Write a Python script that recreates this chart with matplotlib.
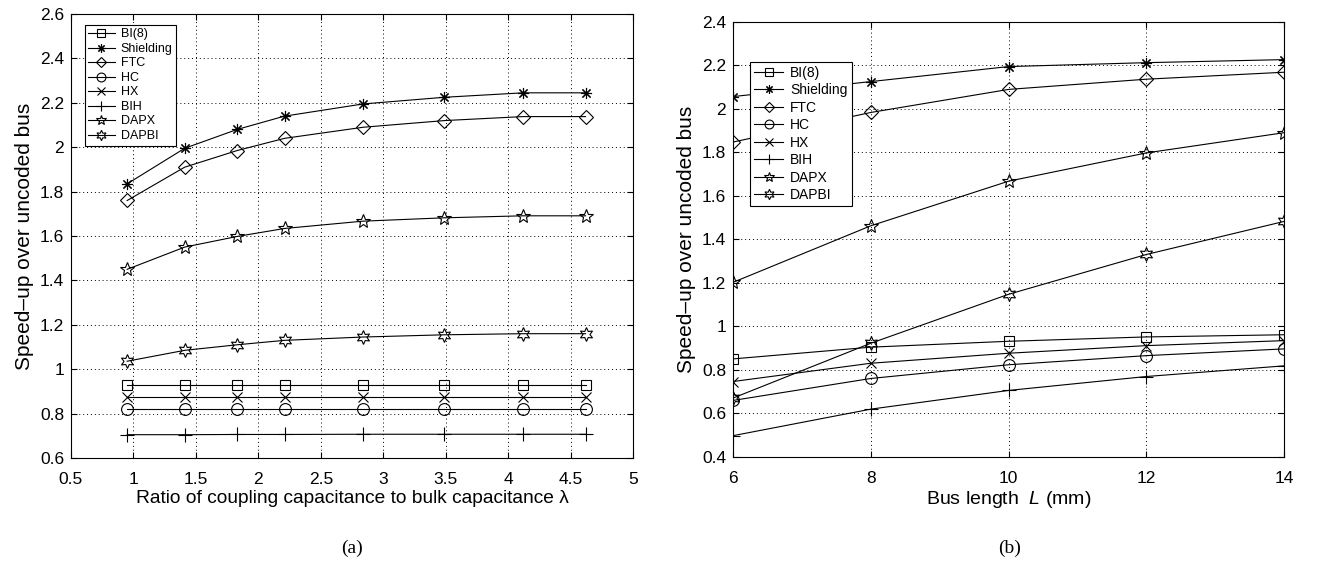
import numpy as np
import matplotlib
matplotlib.use("Agg")
import matplotlib.pyplot as plt
from matplotlib import rcParams
from matplotlib.ticker import FuncFormatter

# -------------------------------
# fonts / style (MATLAB-ish look)
# -------------------------------
rcParams['font.family'] = ['Liberation Sans', 'DejaVu Sans']
rcParams['font.size'] = 12
rcParams['mathtext.fontset'] = 'custom'
rcParams['mathtext.it'] = 'Liberation Sans:italic'
rcParams['mathtext.rm'] = 'Liberation Sans'

# -------------------------------
# data
# -------------------------------
series = ["BI(8)", "Shielding", "FTC", "HC", "HX", "BIH", "DAPX", "DAPBI"]

# (a) speed-up vs lambda
lam = [0.95, 1.41, 1.83, 2.21, 2.84, 3.49, 4.12, 4.62]
a_bi8 = [0.93, 0.93, 0.93, 0.93, 0.93, 0.93, 0.93, 0.93]
a_shield = [1.835, 1.995, 2.08, 2.14, 2.195, 2.225, 2.245, 2.245]
a_ftc = [1.76, 1.91, 1.985, 2.04, 2.09, 2.12, 2.138, 2.138]
a_hc = [0.822, 0.822, 0.822, 0.822, 0.822, 0.822, 0.822, 0.822]
a_hx = [0.873, 0.873, 0.873, 0.873, 0.873, 0.873, 0.873, 0.873]
a_bih = [0.705, 0.705, 0.706, 0.706, 0.707, 0.707, 0.707, 0.707]
a_dapx = [1.45, 1.55, 1.598, 1.634, 1.667, 1.682, 1.691, 1.691]
a_dapbi = [1.036, 1.085, 1.11, 1.13, 1.145, 1.155, 1.16, 1.16]

# (b) speed-up vs bus length
length = [6, 8, 10, 12, 14]
b_bi8 = [0.851, 0.905, 0.932, 0.952, 0.962]
b_shield = [2.057, 2.126, 2.195, 2.213, 2.227]
b_ftc = [1.848, 1.984, 2.09, 2.137, 2.169]
b_hc = [0.66, 0.761, 0.824, 0.866, 0.897]
b_hx = [0.747, 0.831, 0.877, 0.912, 0.935]
b_bih = [0.498, 0.62, 0.706, 0.77, 0.819]
b_dapx = [1.203, 1.463, 1.668, 1.798, 1.891]
b_dapbi = [0.671, 0.923, 1.148, 1.331, 1.483]

a_data = [a_bi8, a_shield, a_ftc, a_hc, a_hx, a_bih, a_dapx, a_dapbi]
b_data = [b_bi8, b_shield, b_ftc, b_hc, b_hx, b_bih, b_dapx, b_dapbi]

# marker per series (open, black)
markers = ['s', (8, 2, 0), 'D', 'o', 'x', '+', '*', (6, 1, 0)]
msizes = [7, 8, 7, 8.5, 7, 10, 10, 10]


def style_axes(ax):
    ax.grid(True, color='black', linestyle=(0, (1, 3)), linewidth=0.7)
    ax.tick_params(direction='in', top=True, right=True, length=4,
                   width=0.8, labelsize=12.5)
    ax.tick_params(axis='x', pad=10)
    ax.tick_params(axis='y', pad=5)
    for s in ax.spines.values():
        s.set_linewidth(0.8)
    ax.yaxis.set_major_formatter(FuncFormatter(lambda v, p: f"{v:g}"))
    ax.xaxis.set_major_formatter(FuncFormatter(lambda v, p: f"{v:g}"))


def draw(ax, x, data):
    for name, y, m, ms in zip(series, data, markers, msizes):
        ax.plot(x, y, color='black', lw=0.8, marker=m, markersize=ms,
                markerfacecolor='none', markeredgecolor='black',
                markeredgewidth=0.8, label=name)


fig = plt.figure(figsize=(13.22, 5.61), dpi=100)

# -------------------------------
# (a)
# -------------------------------
ax1 = fig.add_axes([0.0537, 0.1836, 0.4251, 0.7914])
draw(ax1, lam, a_data)
ax1.set_xlim(0.5, 5)
ax1.set_ylim(0.6, 2.6)
ax1.set_xticks(np.arange(0.5, 5.01, 0.5))
ax1.set_yticks(np.arange(0.6, 2.61, 0.2))
style_axes(ax1)
ax1.set_xlabel("Ratio of coupling capacitance to bulk capacitance λ",
               fontsize=13.8, labelpad=2)
ax1.set_ylabel("Speed–up over uncoded bus", fontsize=15, labelpad=4)
leg1 = ax1.legend(loc='upper left', bbox_to_anchor=(0.013, 0.99),
                  fontsize=9, labelspacing=0.2, handlelength=2.1,
                  handletextpad=0.5, borderpad=0.3, fancybox=False,
                  framealpha=1, edgecolor='black', markerscale=0.75)
leg1.get_frame().set_linewidth(0.8)

# -------------------------------
# (b)
# -------------------------------
ax2 = fig.add_axes([0.5545, 0.1854, 0.4168, 0.7754])
draw(ax2, length, b_data)
ax2.set_xlim(6, 14)
ax2.set_ylim(0.4, 2.4)
ax2.set_xticks(length)
ax2.set_yticks(np.arange(0.4, 2.41, 0.2))
style_axes(ax2)
ax2.set_xlabel("Bus length  $\\mathit{L}$ (mm)", fontsize=14, labelpad=2)
ax2.set_ylabel("Speed–up over uncoded bus", fontsize=15, labelpad=4)
leg2 = ax2.legend(loc='upper left', bbox_to_anchor=(0.018, 0.925),
                  fontsize=10, labelspacing=0.25, handlelength=2.1,
                  handletextpad=0.5, borderpad=0.3, fancybox=False,
                  framealpha=1, edgecolor='black', markerscale=0.75)
leg2.get_frame().set_linewidth(0.8)

# captions
fig.text(352 / 1322, 1 - 548 / 561, "(a)", family='Liberation Serif',
         fontsize=14, ha='center', va='center')
fig.text(1010 / 1322, 1 - 548 / 561, "(b)", family='Liberation Serif',
         fontsize=14, ha='center', va='center')

fig.savefig("out.png", dpi=100)
